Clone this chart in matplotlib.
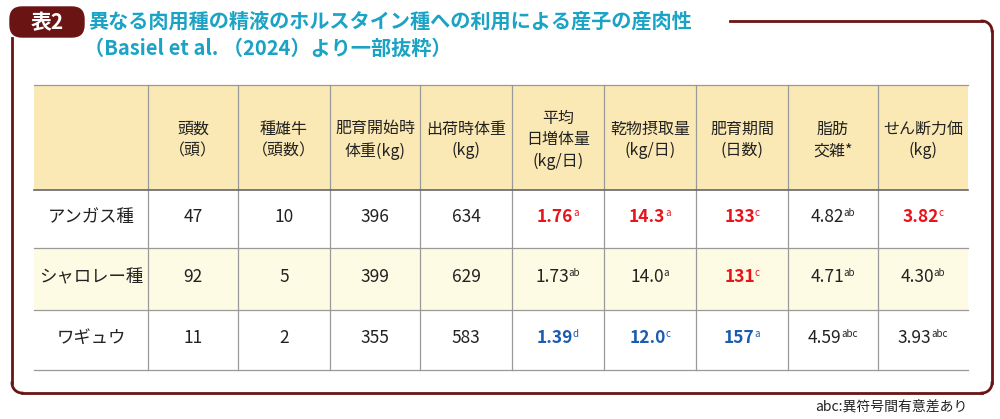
import matplotlib
matplotlib.use("Agg")
import matplotlib.pyplot as plt
from matplotlib.patches import FancyBboxPatch, Rectangle
import numpy as np

plt.rcParams['font.family'] = ['Noto Sans CJK JP', 'DejaVu Sans']

headers = ["", "頭数\n（頭）", "種雄牛\n（頭数）", "肥育開始時\n体重(kg)", "出荷時体重\n(kg)",
           "平均\n日増体量\n(kg/日)", "乾物摂取量\n(kg/日)", "肥育期間\n(日数)", "脂肪\n交雑*", "せん断力価\n(kg)"]
breeds = ["アンガス種", "シャロレー種", "ワギュウ"]
heads = ["47", "92", "11"]
sires = ["10", "5", "2"]
start_wt = ["396", "399", "355"]
ship_wt = ["634", "629", "583"]
adg = [("1.76", "a"), ("1.73", "ab"), ("1.39", "d")]
dmi = [("14.3", "a"), ("14.0", "a"), ("12.0", "c")]
period = [("133", "c"), ("131", "c"), ("157", "a")]
marbling = [("4.82", "ab"), ("4.71", "ab"), ("4.59", "abc")]
shear = [("3.82", "c"), ("4.30", "ab"), ("3.93", "abc")]
colors_adg = ["r", "k", "b"]
colors_dmi = ["r", "k", "b"]
colors_period = ["r", "r", "b"]
colors_marb = ["k", "k", "k"]
colors_shear = ["r", "k", "k"]

CMAP = {"r": "#e8141c", "k": "#222222", "b": "#1a5cb0"}
RED = "#6b1414"
TEAL = "#1ba3c6"

fig = plt.figure(figsize=(10, 4.19), dpi=100)
ax = fig.add_axes([0, 0, 1, 1])
ax.set_xlim(0, 1000); ax.set_ylim(419, 0); ax.axis("off")

# frame
ax.plot([730, 982], [21, 21], color=RED, lw=2)
ax.plot([992, 992], [31, 383], color=RED, lw=2)
ax.plot([12, 12], [38, 383], color=RED, lw=2)
ax.plot([22, 982], [393, 393], color=RED, lw=2)
t = np.linspace(0, np.pi/2, 20)
ax.plot(982 + 10*np.sin(t), 31 - 10*np.cos(t), color=RED, lw=2)
ax.plot(982 + 10*np.cos(t), 383 + 10*np.sin(t), color=RED, lw=2)
ax.plot(22 - 10*np.cos(t), 383 + 10*np.sin(t), color=RED, lw=2)
ax.add_patch(FancyBboxPatch((10, 7), 74, 30, boxstyle="round,pad=0,rounding_size=12", color=RED))
ax.text(47, 23, "表2", color="white", fontsize=15, fontweight="bold", ha="center", va="center")
ax.text(88, 21, "異なる肉用種の精液のホルスタイン種への利用による産子の産肉性", color=TEAL,
        fontsize=14.5, fontweight="bold", va="center")
ax.text(84, 48, "（Basiel et al. （2024）より一部抜粋）", color=TEAL, fontsize=14.5,
        fontweight="bold", va="center")

cols = [34, 148, 238, 330, 420, 512, 604, 696, 788, 878, 968]
rows = [85, 190, 248, 310, 370]
ax.add_patch(Rectangle((34, 85), 934, 105, color="#fbe9b5", lw=0))
ax.add_patch(Rectangle((34, 248), 934, 62, color="#fefbe4", lw=0))
for x in cols[1:-1]:
    ax.plot([x, x], [85, 370], color="#999999", lw=0.9)
for y in rows:
    ax.plot([34, 968], [y, y], color="#999999" if y != 190 else "#666666", lw=1.2 if y == 190 else 0.9)

for i, h in enumerate(headers):
    if h:
        ax.text((cols[i]+cols[i+1])/2, 140, h, ha="center", va="center", fontsize=11.5,
                color="#222222", linespacing=1.35)

fig.canvas.draw()
r = fig.canvas.get_renderer()
scale = 1000 / fig.bbox.width

def cell(ci, ri, val, sup=None, c="k"):
    xc = (cols[ci]+cols[ci+1])/2
    yc = (rows[ri+1]+rows[ri+2])/2 - 2
    col = CMAP[c]
    fw = "normal" if c == "k" else "semibold"
    t1 = ax.text(xc, yc, val, ha="center", va="center", fontsize=12.5, color=col, fontweight=fw)
    if sup:
        bb = t1.get_window_extent(r)
        t2 = ax.text(0, 0, sup, fontsize=7, color=col)
        bb2 = t2.get_window_extent(r)
        w1, w2 = bb.width, bb2.width
        t2.remove()
        x0 = xc - (w1 + w2) / 2 * scale
        t1.set_ha("left"); t1.set_x(x0)
        ax.text(x0 + w1 * scale - 0.5, yc - 4, sup, fontsize=7, color=col,
                ha="left", va="center")

for ri in range(3):
    cell(0, ri, breeds[ri])
    cell(1, ri, heads[ri]); cell(2, ri, sires[ri])
    cell(3, ri, start_wt[ri]); cell(4, ri, ship_wt[ri])
    cell(5, ri, *adg[ri], colors_adg[ri])
    cell(6, ri, *dmi[ri], colors_dmi[ri])
    cell(7, ri, *period[ri], colors_period[ri])
    cell(8, ri, *marbling[ri], colors_marb[ri])
    cell(9, ri, *shear[ri], colors_shear[ri])

ax.text(968, 406, "abc:異符号間有意差あり", ha="right", va="center", fontsize=10, color="#222222")
fig.savefig("out.png", dpi=100)
